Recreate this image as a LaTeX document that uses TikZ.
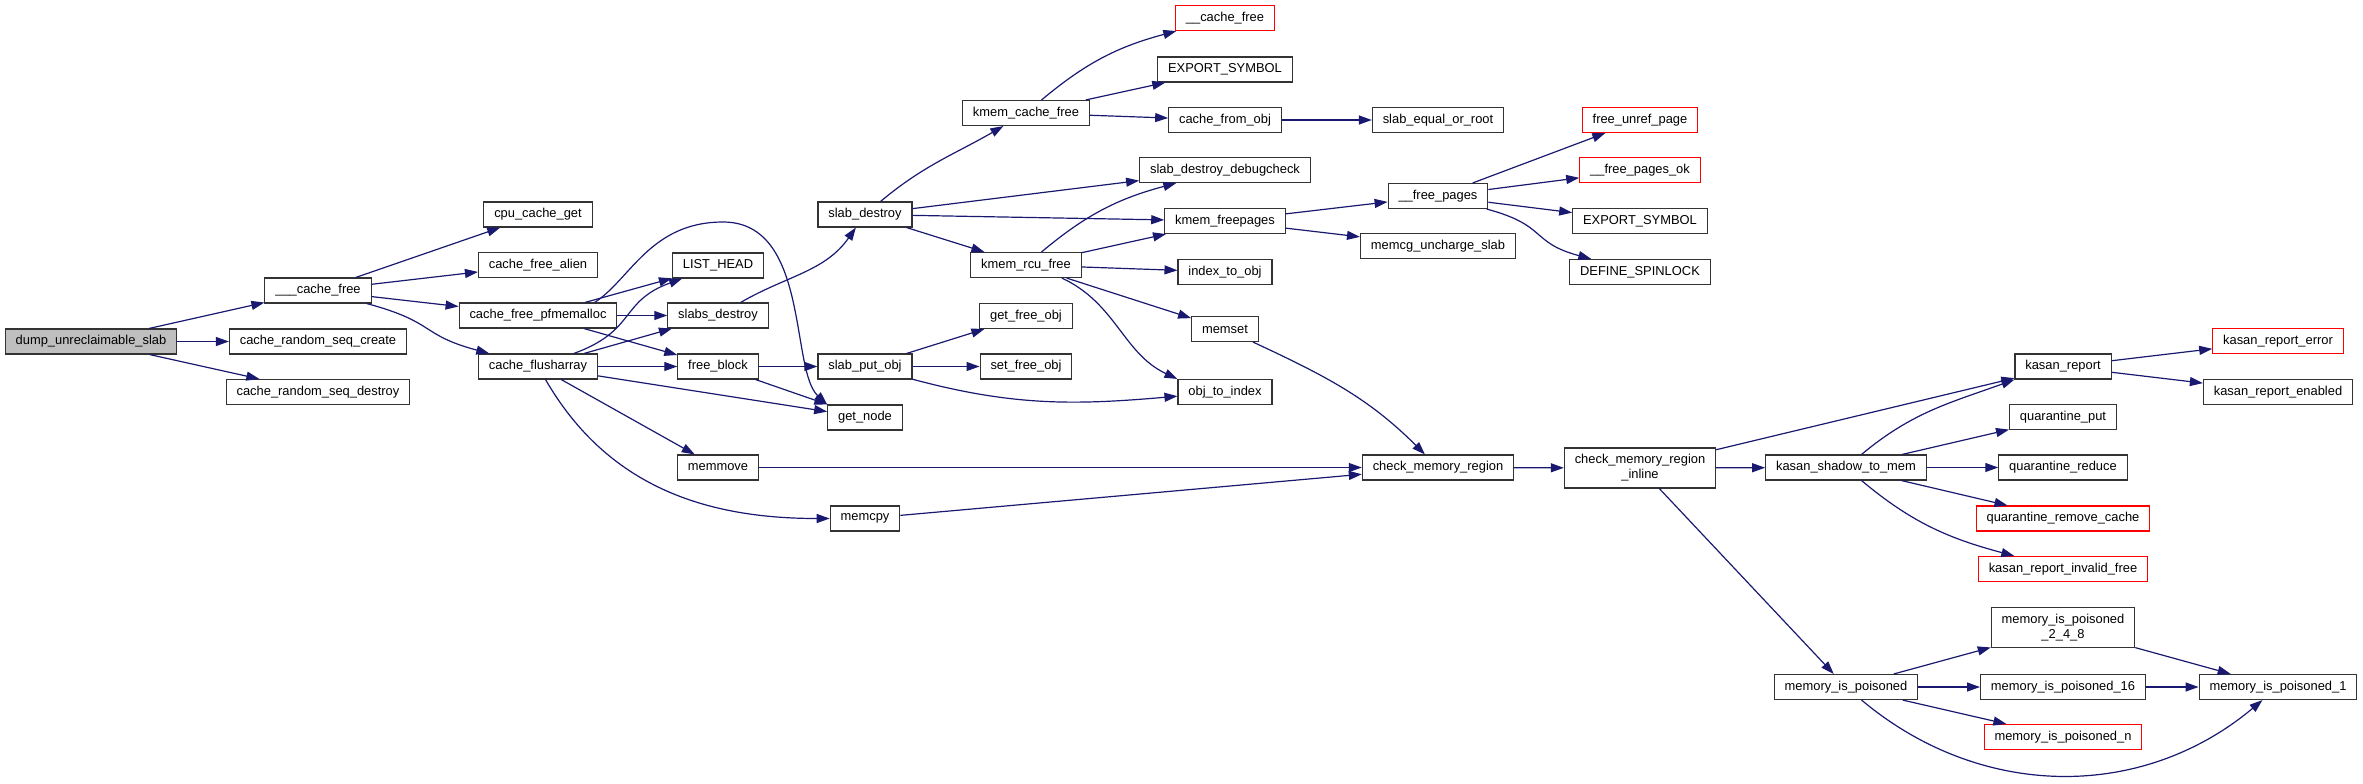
\documentclass[tikz,border=0pt]{standalone}
\usepackage{fontspec}
\newfontfamily\dotfont{Liberation Sans}
\usetikzlibrary{arrows.meta}
\definecolor{edgeblue}{HTML}{191970}
\definecolor{boxline}{HTML}{333333}

\begin{document}
\begin{tikzpicture}[x=0.5pt, y=0.5pt,
    fn/.style={draw=boxline, line width=0.55pt, fill=white, font=\dotfont\fontsize{6.45}{7.5}\selectfont, inner xsep=5.2pt, inner ysep=0pt, minimum height=12.5pt},
    root/.style={fn, fill=gray!50},
    undoc/.style={fn, draw=red},
    twoline/.style={fn, align=center, minimum height=20pt},
    call/.style={draw=edgeblue, line width=0.6pt, -{Triangle[length=6.5pt,width=4.5pt]}}]
            \useasboundingbox(0,0)rectangle(2363,-783);
            % caller
            \node[root](dump)at(91,-341.5){dump\_unreclaimable\_slab};
            % second column
            \node[fn](cachefree3)at(318,-290.5){\_\_\_cache\_free};
            \node[fn](seqcreate)at(318,-341.5){cache\_random\_seq\_create};
            \node[fn](seqdestroy)at(318,-392){cache\_random\_seq\_destroy};
            % third column
            \node[fn](cpuget)at(538,-214.5){cpu\_cache\_get};
            \node[fn](freealien)at(538,-265){cache\_free\_alien};
            \node[fn](pfmemalloc)at(538,-315.5){cache\_free\_pfmemalloc};
            \node[fn](flusharray)at(538,-366.5){cache\_flusharray};
            % fourth column
            \node[fn](listhead)at(718,-265.5){LIST\_HEAD};
            \node[fn](slabsdestroy)at(718,-315.5){slabs\_destroy};
            \node[fn](freeblock)at(718,-366.5){free\_block};
            \node[fn](memmove)at(718,-467.5){memmove};
            % fifth column
            \node[fn](slabdestroy)at(865,-214.5){slab\_destroy};
            \node[fn](putobj)at(865,-366.5){slab\_put\_obj};
            \node[fn](getnode)at(865,-417.5){get\_node};
            \node[fn](memcpy)at(865,-518.5){memcpy};
            % sixth column
            \node[fn](kcachefree)at(1026,-113){kmem\_cache\_free};
            \node[fn](rcufree)at(1026,-265){kmem\_rcu\_free};
            \node[fn](getfree)at(1026,-316){get\_free\_obj};
            \node[fn](setfree)at(1026,-366.5){set\_free\_obj};
            % seventh column
            \node[undoc](cachefree2)at(1225,-18){\_\_cache\_free};
            \node[fn](export1)at(1225,-69.5){EXPORT\_SYMBOL};
            \node[fn](fromobj)at(1225,-120){cache\_from\_obj};
            \node[fn](debugcheck)at(1225,-170){slab\_destroy\_debugcheck};
            \node[fn](kmemfreepages)at(1225,-221){kmem\_freepages};
            \node[fn](idxtoobj)at(1225,-272){index\_to\_obj};
            \node[fn](memset)at(1225,-329){memset};
            \node[fn](objtoidx)at(1225,-392){obj\_to\_index};
            % eighth column
            \node[fn](equalroot)at(1438,-120){slab\_equal\_or\_root};
            \node[fn](freepages)at(1438,-196){\_\_free\_pages};
            \node[fn](uncharge)at(1438,-246){memcg\_uncharge\_slab};
            \node[fn](cmr)at(1438,-467.5){check\_memory\_region};
            % ninth column
            \node[undoc](unref)at(1640,-120){free\_unref\_page};
            \node[undoc](freepagesok)at(1640,-170){\_\_free\_pages\_ok};
            \node[fn](export2)at(1640,-221){EXPORT\_SYMBOL};
            \node[fn](spinlock)at(1640,-272){DEFINE\_SPINLOCK};
            \node[twoline](cmri)at(1640,-468){check\_memory\_region\\\_inline};
            % tenth column
            \node[fn](shadow)at(1846,-467.5){kasan\_shadow\_to\_mem};
            \node[fn](poisoned)at(1846,-687){memory\_is\_poisoned};
            % eleventh column
            \node[fn](kreport)at(2063,-366.5){kasan\_report};
            \node[fn](qput)at(2063,-417){quarantine\_put};
            \node[fn](qreduce)at(2063,-467.5){quarantine\_reduce};
            \node[undoc](qremove)at(2063,-518.5){quarantine\_remove\_cache};
            \node[undoc](invalidfree)at(2063,-569){kasan\_report\_invalid\_free};
            \node[twoline](p248)at(2063,-627.7){memory\_is\_poisoned\\\_2\_4\_8};
            \node[fn](p16)at(2063,-687){memory\_is\_poisoned\_16};
            \node[undoc](pn)at(2063,-737){memory\_is\_poisoned\_n};
            % last column
            \node[undoc](kerror)at(2278,-341){kasan\_report\_error};
            \node[fn](kenabled)at(2278,-392){kasan\_report\_enabled};
            \node[fn](p1)at(2278,-687){memory\_is\_poisoned\_1};
            % calls of dump_unreclaimable_slab and ___cache_free
            \path[draw, call](dump)to(cachefree3);
            \path[draw, call](dump)to(seqcreate);
            \path[draw, call](dump)to(seqdestroy);
            \path[draw, call](cachefree3)to(cpuget);
            \path[draw, call](cachefree3)to(freealien);
            \path[draw, call](cachefree3)to(pfmemalloc);
            \path[draw, call](cachefree3)to[out=-15, in=165, looseness=1.4](flusharray);
            % calls of cache_free_pfmemalloc
            \path[draw, call](pfmemalloc)to(listhead);
            \path[draw, call](pfmemalloc)to(slabsdestroy);
            \path[draw, call](pfmemalloc)to(freeblock);
            \path[draw, call](pfmemalloc.13)..controls(630,-280)and(650,-222)..(723,-222)..controls(810,-222)and(790,-370)..(getnode.north west);
            % calls of cache_flusharray
            \path[draw, call](flusharray)to[out=20, in=-160, looseness=1.3](listhead);
            \path[draw, call](flusharray)to(slabsdestroy);
            \path[draw, call](flusharray)to(freeblock);
            \path[draw, call](flusharray)to(getnode);
            \path[draw, call](flusharray)to(memmove);
            \path[draw, call](flusharray)to[out=-60, in=180](memcpy);
            % slabs
            \path[draw, call](slabsdestroy)to[out=30, in=-125](slabdestroy);
            \path[draw, call](freeblock)to(putobj);
            \path[draw, call](freeblock)to(getnode);
            \path[draw, call](putobj)to(getfree);
            \path[draw, call](putobj)to(setfree);
            \path[draw, call](putobj)to[out=-15, in=185](objtoidx);
            \path[draw, call](slabdestroy)to[out=40, in=-150](kcachefree);
            \path[draw, call](slabdestroy)to(debugcheck);
            \path[draw, call](slabdestroy)to(kmemfreepages);
            \path[draw, call](slabdestroy)to(rcufree);
            % kmem_cache_free and kmem_rcu_free
            \path[draw, call](kcachefree)to[out=40, in=-165](cachefree2);
            \path[draw, call](kcachefree)to(export1);
            \path[draw, call](kcachefree)to(fromobj);
            \path[draw, call](fromobj)to(equalroot);
            \path[draw, call](rcufree)to[out=40, in=-165](debugcheck);
            \path[draw, call](rcufree)to(kmemfreepages);
            \path[draw, call](rcufree)to(idxtoobj);
            \path[draw, call](rcufree)to(memset);
            \path[draw, call](rcufree.-20)to[out=-25, in=155](objtoidx.north west);
            % pages
            \path[draw, call](kmemfreepages)to(freepages);
            \path[draw, call](kmemfreepages)to(uncharge);
            \path[draw, call](freepages)to(unref);
            \path[draw, call](freepages)to(freepagesok);
            \path[draw, call](freepages)to(export2);
            \path[draw, call](freepages)to[out=-15, in=165, looseness=1.4](spinlock);
            % memory checks
            \path[draw, call](memset)to[out=-25, in=135](cmr);
            \path[draw, call](memmove)to(cmr);
            \path[draw, call](memcpy)to(cmr);
            \path[draw, call](cmr)to(cmri);
            \path[draw, call](cmri)to(kreport);
            \path[draw, call](cmri)to(shadow);
            \path[draw, call](cmri)to(poisoned);
            % kasan
            \path[draw, call](shadow)to[out=40, in=-160](kreport.south west);
            \path[draw, call](shadow)to(qput);
            \path[draw, call](shadow)to(qreduce);
            \path[draw, call](shadow)to(qremove);
            \path[draw, call](shadow)to[out=-40, in=165](invalidfree);
            \path[draw, call](kreport)to(kerror);
            \path[draw, call](kreport)to(kenabled);
            % poisoned
            \path[draw, call](poisoned)to(p248);
            \path[draw, call](poisoned)to(p16);
            \path[draw, call](poisoned)to(pn);
            \path[draw, call](poisoned)to[out=-40, in=-140](p1);
            \path[draw, call](p248)to(p1);
            \path[draw, call](p16)to(p1);
\end{tikzpicture}
\end{document}
